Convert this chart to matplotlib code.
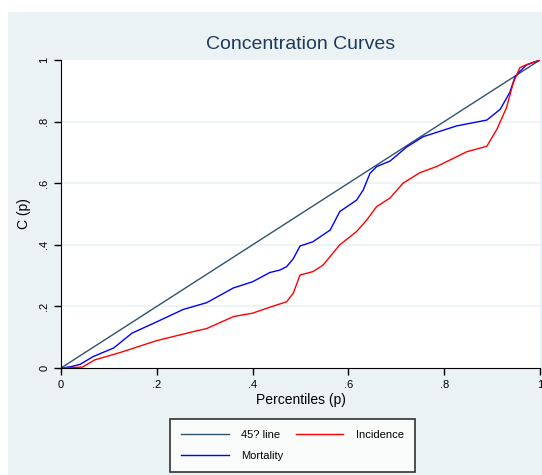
import numpy as np
import matplotlib.pyplot as plt
from matplotlib.patches import Rectangle

# Concentration curves data
line45_x = [0, 1]
line45_y = [0, 1]

mort_x = [0, 0.02, 0.04, 0.067, 0.11, 0.148, 0.2, 0.255, 0.304, 0.36, 0.40, 0.436,
          0.457, 0.471, 0.485, 0.499, 0.526, 0.562, 0.582, 0.617, 0.631, 0.645, 0.659,
          0.687, 0.722, 0.756, 0.826, 0.889, 0.917, 0.937, 0.948, 0.958, 0.972, 1.0]
mort_y = [0, 0.004, 0.012, 0.037, 0.065, 0.113, 0.15, 0.19, 0.212, 0.26, 0.28, 0.31,
          0.318, 0.329, 0.355, 0.396, 0.41, 0.448, 0.508, 0.545, 0.578, 0.632, 0.654,
          0.672, 0.718, 0.751, 0.786, 0.805, 0.84, 0.895, 0.946, 0.963, 0.984, 1.0]

inc_x = [0, 0.045, 0.07, 0.123, 0.2, 0.276, 0.304, 0.36, 0.40, 0.443, 0.471, 0.485,
         0.499, 0.526, 0.547, 0.582, 0.617, 0.638, 0.659, 0.687, 0.714, 0.749, 0.784,
         0.826, 0.847, 0.889, 0.91, 0.93, 0.944, 0.958, 0.972, 1.0]
inc_y = [0, 0.003, 0.026, 0.05, 0.089, 0.118, 0.128, 0.167, 0.178, 0.201, 0.215, 0.243,
         0.302, 0.313, 0.334, 0.40, 0.443, 0.48, 0.524, 0.552, 0.60, 0.634, 0.654,
         0.686, 0.702, 0.72, 0.775, 0.845, 0.925, 0.975, 0.985, 1.0]

ticks = [0, 0.2, 0.4, 0.6, 0.8, 1.0]
tick_labels = ['0', '.2', '.4', '.6', '.8', '1']

plt.rcParams['font.family'] = ['Liberation Sans Narrow', 'Liberation Sans', 'DejaVu Sans']

bg = '#eaf2f3'
fig = plt.figure(figsize=(5.42, 4.75), dpi=100)
fig.patch.set_facecolor('white')
fig.patches.append(Rectangle((8/542, 0), 1, 1 - 12/475, transform=fig.transFigure,
                             facecolor=bg, edgecolor='none', zorder=-10))

ax = fig.add_axes([61/542, 1 - 368/475, 479/542, 308/475])
ax.set_facecolor('white')

ax.plot(line45_x, line45_y, color='#2f5270', lw=1.0, label='45? line')
ax.plot(mort_x, mort_y, color='#0000ff', lw=1.0, label='Mortality')
ax.plot(inc_x, inc_y, color='#ff0000', lw=1.0, label='Incidence')

ax.set_xlim(0, 1)
ax.set_ylim(0, 1)
ax.set_xticks(ticks)
ax.set_xticklabels(tick_labels, fontsize=8)
ax.set_yticks(ticks)
ax.set_yticklabels(tick_labels, fontsize=8, rotation=90, va='center')
ax.tick_params(direction='out', length=5, width=1, color='black')
for y in ticks[1:-1]:
    ax.axhline(y, color=bg, lw=1.2, zorder=0)

ax.spines['top'].set_visible(False)
ax.spines['right'].set_visible(False)

ax.set_title('Concentration Curves', fontsize=14, color='#1e3a5a', pad=8)
ax.set_xlabel('Percentiles (p)', fontsize=10, labelpad=2)
ax.set_ylabel('C (p)', fontsize=10, labelpad=6)

leg = fig.legend(loc='upper left', bbox_to_anchor=(170/542, 1 - 419/475), ncol=2,
                 fontsize=8, frameon=True, fancybox=False, edgecolor='black',
                 handlelength=4.3, handletextpad=1.1, columnspacing=1.1,
                 borderpad=1.0, labelspacing=1.0, borderaxespad=0)
leg.get_frame().set_linewidth(1.2)

plt.savefig('out.png', dpi=100, facecolor=fig.get_facecolor())
